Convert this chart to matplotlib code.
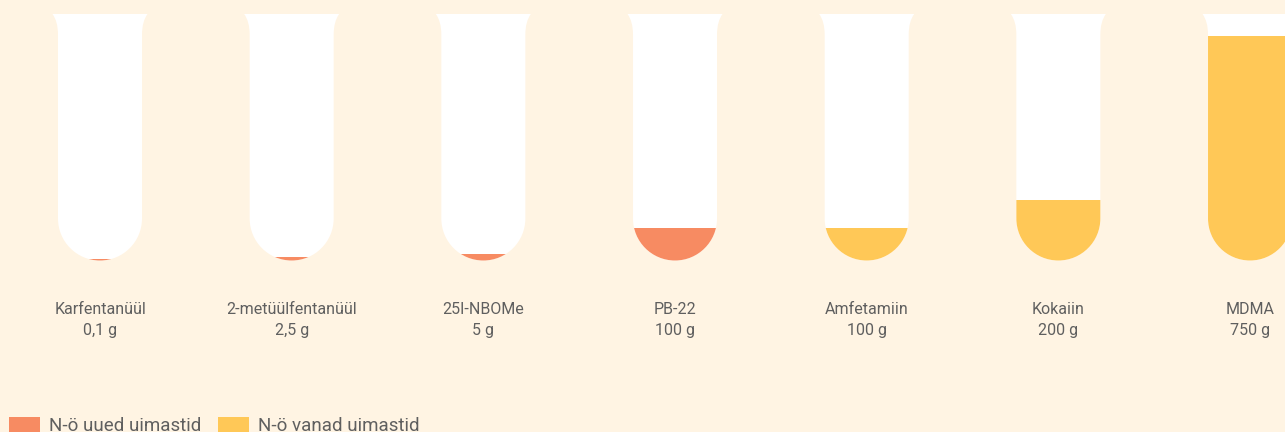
import matplotlib
matplotlib.use('Agg')
import matplotlib.pyplot as plt
from matplotlib.patches import PathPatch, Rectangle
from matplotlib.path import Path
from matplotlib.transforms import Affine2D

# data
drugs = ['Karfentanüül', '2-metüülfentanüül', '25I-NBOMe', 'PB-22',
         'Amfetamiin', 'Kokaiin', 'MDMA']
amounts = ['0,1 g', '2,5 g', '5 g', '100 g', '100 g', '200 g', '750 g']
# fill level of each tube (gram scale)
fill_level = [6, 13, 21, 110, 110, 202, 750]
group = ['uus', 'uus', 'uus', 'uus', 'vana', 'vana', 'vana']

colors = {'uus': '#F78B62', 'vana': '#FFC857'}
legend_labels = {'uus': 'N-ö uued uimastid', 'vana': 'N-ö vanad uimastid'}
bg = '#FFF4E3'
text_col = '#5f5f5f'

W, H = 1285, 432
PX_PER_G = 224.5 / 750      # vertical pixels per gram
PX_PER_SLOT = 191.67        # horizontal pixels between tubes
BOTTOM_PX = 171.5           # tube bottom, from figure bottom
FIRST_PX = 100

plt.rcParams['font.family'] = ['Roboto', 'DejaVu Sans']

fig = plt.figure(figsize=(W / 100, H / 100), dpi=100, facecolor=bg)
ax = fig.add_axes([0, 0, 1, 1])
ax.set_facecolor(bg)
ax.set_xlim(-FIRST_PX / PX_PER_SLOT, (W - FIRST_PX) / PX_PER_SLOT)
ax.set_ylim(-BOTTOM_PX / PX_PER_G, (H - BOTTOM_PX) / PX_PER_G)
ax.axis('off')

# tube outline in pixels, relative to centre / bottom
r = 42
wall_top = 226
lip_top = 246.5
lip_half = 47.5
k = 0.5523 * r
verts = [
    (-lip_half, lip_top),
    (-r, 239), (-r, wall_top),
    (-r, r),
    (-r, r - k), (-k, 0), (0, 0),
    (k, 0), (r, r - k), (r, r),
    (r, wall_top),
    (r, 239), (lip_half, lip_top),
    (-lip_half, lip_top),
]
codes = [Path.MOVETO,
         Path.CURVE3, Path.CURVE3,
         Path.LINETO,
         Path.CURVE4, Path.CURVE4, Path.CURVE4,
         Path.CURVE4, Path.CURVE4, Path.CURVE4,
         Path.LINETO,
         Path.CURVE3, Path.CURVE3,
         Path.CLOSEPOLY]
tube_path = Path(verts, codes)

for i, (name, amt, lvl, g) in enumerate(zip(drugs, amounts, fill_level, group)):
    tr = Affine2D().scale(1 / PX_PER_SLOT, 1 / PX_PER_G).translate(i, 0) + ax.transData
    tube = PathPatch(tube_path, transform=tr, facecolor='white', edgecolor='none')
    ax.add_patch(tube)
    bars = ax.bar(i, lvl, width=0.6, bottom=0, color=colors[g], linewidth=0)
    for b in bars:
        b.set_clip_path(tube)
    ax.text(i, -49.5 / PX_PER_G, name, ha='center', va='center',
            fontsize=11.5, color=text_col)
    ax.text(i, -69.5 / PX_PER_G, amt, ha='center', va='center',
            fontsize=11.5, color=text_col)

# legend, sitting at the very bottom edge
lx = [9, 218]
for x0, g in zip(lx, ['uus', 'vana']):
    fig.patches.append(Rectangle((x0 / W, -1 / H), 31 / W, 16.5 / H,
                                 transform=fig.transFigure,
                                 facecolor=colors[g], edgecolor='none'))
    fig.text((x0 + 40) / W, 1 / H, legend_labels[g], ha='left', va='baseline',
             fontsize=13.5, color=text_col)

fig.savefig('out.png', dpi=100, facecolor=bg)
